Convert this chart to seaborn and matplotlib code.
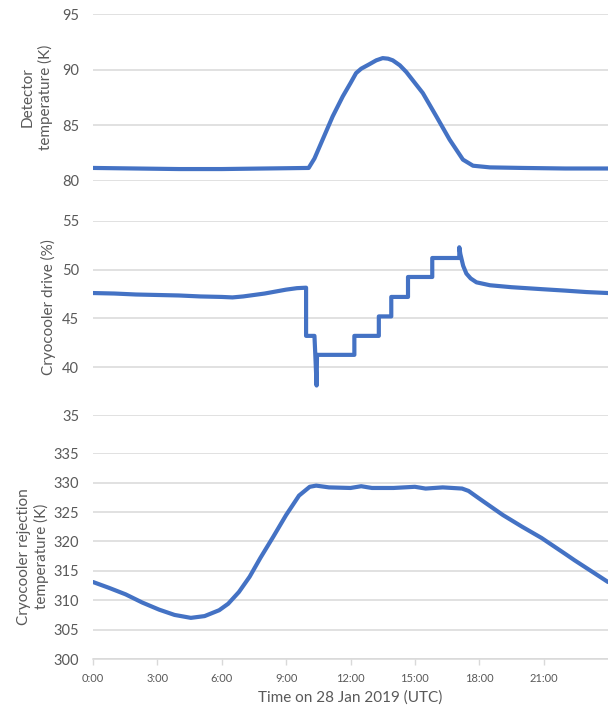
import numpy as np
import pandas as pd
import seaborn as sns
import matplotlib
matplotlib.use("Agg")
import matplotlib.pyplot as plt

# ---------------- data ----------------
det_hours = [0, 2, 4, 6, 8, 10.05, 10.32, 10.7, 11.17, 11.64, 12.0, 12.26, 12.5, 12.88,
             13.2, 13.5, 13.75, 13.97, 14.3, 14.6, 15.37, 16.0, 16.62, 17.24, 17.71, 18.5, 20, 22, 24]
det_temp = [81.15, 81.1, 81.05, 81.05, 81.1, 81.15, 82.0, 83.7, 85.8, 87.6, 88.8, 89.7, 90.1, 90.5,
            90.85, 91.05, 91.0, 90.85, 90.4, 89.8, 87.9, 85.8, 83.7, 81.9, 81.35, 81.2, 81.15, 81.1, 81.1]

drive_hours = [0, 1, 2, 3, 4, 5, 6, 6.5, 7, 7.5, 8, 8.5, 9, 9.5, 9.93,
               9.93, 10.32, 10.36, 10.42, 10.44, 12.18, 12.18, 13.32, 13.32, 13.9, 13.9,
               14.68, 14.68, 15.81, 15.81, 17.07, 17.07, 17.12, 17.25, 17.4, 17.6, 17.87,
               18.5, 19.5, 20.9, 22, 23, 24]
drive_pct = [47.6, 47.55, 47.45, 47.4, 47.35, 47.25, 47.2, 47.15, 47.25, 47.4, 47.55, 47.75, 47.95, 48.1, 48.15,
             43.2, 43.2, 41.25, 38.1, 41.25, 41.25, 43.2, 43.2, 45.2, 45.2, 47.2,
             47.2, 49.25, 49.25, 51.2, 51.2, 52.3, 51.6, 50.4, 49.6, 49.1, 48.7,
             48.4, 48.2, 48.0, 47.85, 47.7, 47.6]

rej_hours = [0, 0.75, 1.52, 2.3, 3.08, 3.8, 4.56, 5.2, 5.88, 6.3, 6.8, 7.3, 7.8, 8.4, 9.0,
             9.6, 10.1, 10.4, 11, 12, 12.5, 13, 14, 15, 15.5, 16.3, 17.2, 17.5, 18.0,
             19.1, 20.0, 20.9, 22.0, 22.44, 23.2, 24]
rej_temp = [313.1, 312.1, 311.0, 309.6, 308.4, 307.5, 307.0, 307.3, 308.3, 309.4, 311.4, 314.0, 317.2, 320.8, 324.5,
            327.8, 329.3, 329.5, 329.2, 329.1, 329.4, 329.1, 329.1, 329.3, 329.0, 329.2, 329.0, 328.6, 327.3,
            324.5, 322.5, 320.6, 317.9, 316.8, 315.0, 313.1]

x_ticks = [0, 3, 6, 9, 12, 15, 18, 21]
x_tick_labels = ["0:00", "3:00", "6:00", "9:00", "12:00", "15:00", "18:00", "21:00"]

det_ticks = [80, 85, 90, 95]
drive_ticks = [35, 40, 45, 50, 55]
rej_ticks = [300, 305, 310, 315, 320, 325, 330, 335]

# ---------------- style ----------------
sns.set_theme(style="white")
plt.rcParams['font.family'] = ['Lato', 'DejaVu Sans']

BLUE = "#4472C4"
GRID = "#d9d9d9"
TEXT = "#595959"

W, H = 608, 709
fig = plt.figure(figsize=(W / 100, H / 100), dpi=100)

left = 93 / W
width = 1.0 - left

def frac(top_px, bottom_px):
    return [left, 1 - bottom_px / H, width, (bottom_px - top_px) / H]

ax1 = fig.add_axes(frac(14.3, 180.7))
ax2 = fig.add_axes(frac(221.0, 415.7))
ax3 = fig.add_axes(frac(453.3, 659.0))

panels = [
    (ax1, det_hours, det_temp, det_ticks, "Detector\ntemperature (K)", -0.109, 0.5),
    (ax2, drive_hours, drive_pct, drive_ticks, "Cryocooler drive (%)", -0.087, 0.556),
    (ax3, rej_hours, rej_temp, rej_ticks, "Cryocooler rejection\ntemperature (K)", -0.1165, 0.497),
]

for ax, xs, ys, ticks, label, lx, ly in panels:
    df = pd.DataFrame({"h": xs, "v": ys})
    sns.lineplot(data=df, x="h", y="v", ax=ax, color=BLUE, linewidth=3.0,
                 sort=False, estimator=None)
    ax.set_xlim(0, 24)
    ax.set_ylim(ticks[0], ticks[-1])
    ax.set_yticks(ticks)
    ax.yaxis.grid(True, color=GRID, linewidth=1.1)
    ax.set_axisbelow(True)
    for s in ax.spines.values():
        s.set_visible(False)
    ax.tick_params(axis="y", length=0, pad=10, labelsize=10.5, labelcolor=TEXT)
    ax.set_ylabel(label, fontsize=11, color=TEXT, linespacing=1.25, va="center", ha="center")
    ax.yaxis.set_label_coords(lx, ly)
    ax.set_xlabel("")
    ax.patch.set_alpha(0)

for ax in (ax1, ax2):
    ax.set_xticks([])

ax3.set_xticks(x_ticks)
ax3.set_xticklabels(x_tick_labels)
ax3.spines["bottom"].set_visible(True)
ax3.spines["bottom"].set_color(GRID)
ax3.spines["bottom"].set_linewidth(1.1)
ax3.tick_params(axis="x", length=4, width=1, color=GRID, pad=6,
                labelsize=8, labelcolor=TEXT, bottom=True)
ax3.set_xlabel("Time on 28 Jan 2019 (UTC)", fontsize=11, color=TEXT, va="center")
ax3.xaxis.set_label_coords(0.5, -0.185)

fig.savefig("out.png", dpi=100, facecolor="white")
